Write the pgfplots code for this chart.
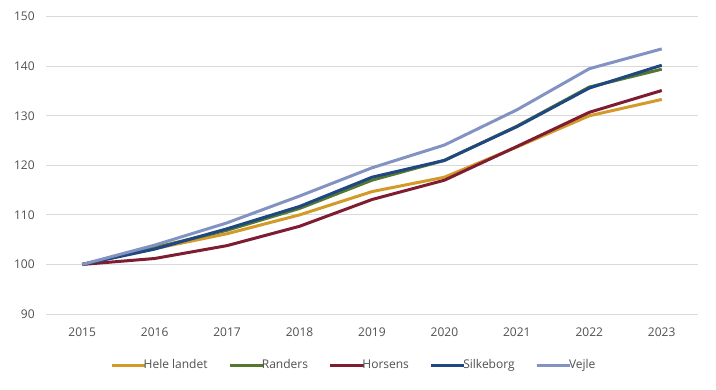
\documentclass[border=0pt]{standalone}
\usepackage{pgfplots}
\pgfplotsset{compat=1.18}
\usepackage{fontspec}
\setmainfont{Open Sans}
\definecolor{cHele}{HTML}{D39A2A}
\definecolor{cRanders}{HTML}{55782F}
\definecolor{cHorsens}{HTML}{7E1C31}
\definecolor{cSilke}{HTML}{1F4882}
\definecolor{cVejle}{HTML}{8292C2}
\definecolor{cGrid}{HTML}{D9D9D9}
\definecolor{cText}{HTML}{505050}
\begin{document}
\begin{tikzpicture}
\path[use as bounding box] (0,0) rectangle (537pt,291.75pt);
\begin{axis}[
  at={(34.5pt,56.25pt)}, anchor=south west,
  scale only axis, width=489pt, height=223pt,
  xmin=2014.5, xmax=2023.5, ymin=90, ymax=150,
  xtick={2015,...,2023}, ytick={90,100,...,150},
  /pgf/number format/1000 sep={},
  /pgf/number format/assume math mode=true,
  axis line style={draw=none},
  major tick length=0pt,
  ymajorgrids, grid style={cGrid, line width=0.75pt},
  tick label style={font=\fontsize{9}{11}\selectfont, text=cText},
  xticklabel style={yshift=-6.5pt},
  yticklabel style={xshift=-5pt},
  legend style={draw=none, at={(axis description cs:0.471,-0.1717)}, anchor=center,
    font=\fontsize{9}{11}\selectfont, text=cText, inner sep=0pt,
    nodes={inner xsep=0.5pt, inner ysep=1pt},
    /tikz/every odd column/.append style={column sep=-2.5pt},
    /tikz/every even column/.append style={column sep=15pt}},
  legend columns=-1,
  legend image code/.code={\draw[#1] (0pt,0pt) -- (25pt,0pt);},
  legend cell align=left,
  every axis plot/.append style={line width=2.25pt, line join=round},
]
\addplot[cHele] coordinates {(2015,100) (2016,103.2) (2017,106.2) (2018,110.0) (2019,114.7) (2020,117.6) (2021,123.7) (2022,130.0) (2023,133.3)};
\addlegendentry{Hele landet}
\addplot[cRanders] coordinates {(2015,100) (2016,103.4) (2017,106.9) (2018,111.3) (2019,117.0) (2020,121.0) (2021,127.9) (2022,135.8) (2023,139.4)};
\addlegendentry{Randers}
\addplot[cHorsens] coordinates {(2015,100) (2016,101.2) (2017,103.8) (2018,107.7) (2019,113.1) (2020,117.0) (2021,123.8) (2022,130.7) (2023,135.1)};
\addlegendentry{Horsens}
\addplot[cSilke] coordinates {(2015,100) (2016,103.1) (2017,107.2) (2018,111.7) (2019,117.6) (2020,121.0) (2021,127.8) (2022,135.6) (2023,140.2)};
\addlegendentry{Silkeborg}
\addplot[cVejle] coordinates {(2015,100) (2016,103.9) (2017,108.4) (2018,113.8) (2019,119.5) (2020,124.1) (2021,131.2) (2022,139.5) (2023,143.5)};
\addlegendentry{Vejle}
\end{axis}
\end{tikzpicture}
\end{document}
